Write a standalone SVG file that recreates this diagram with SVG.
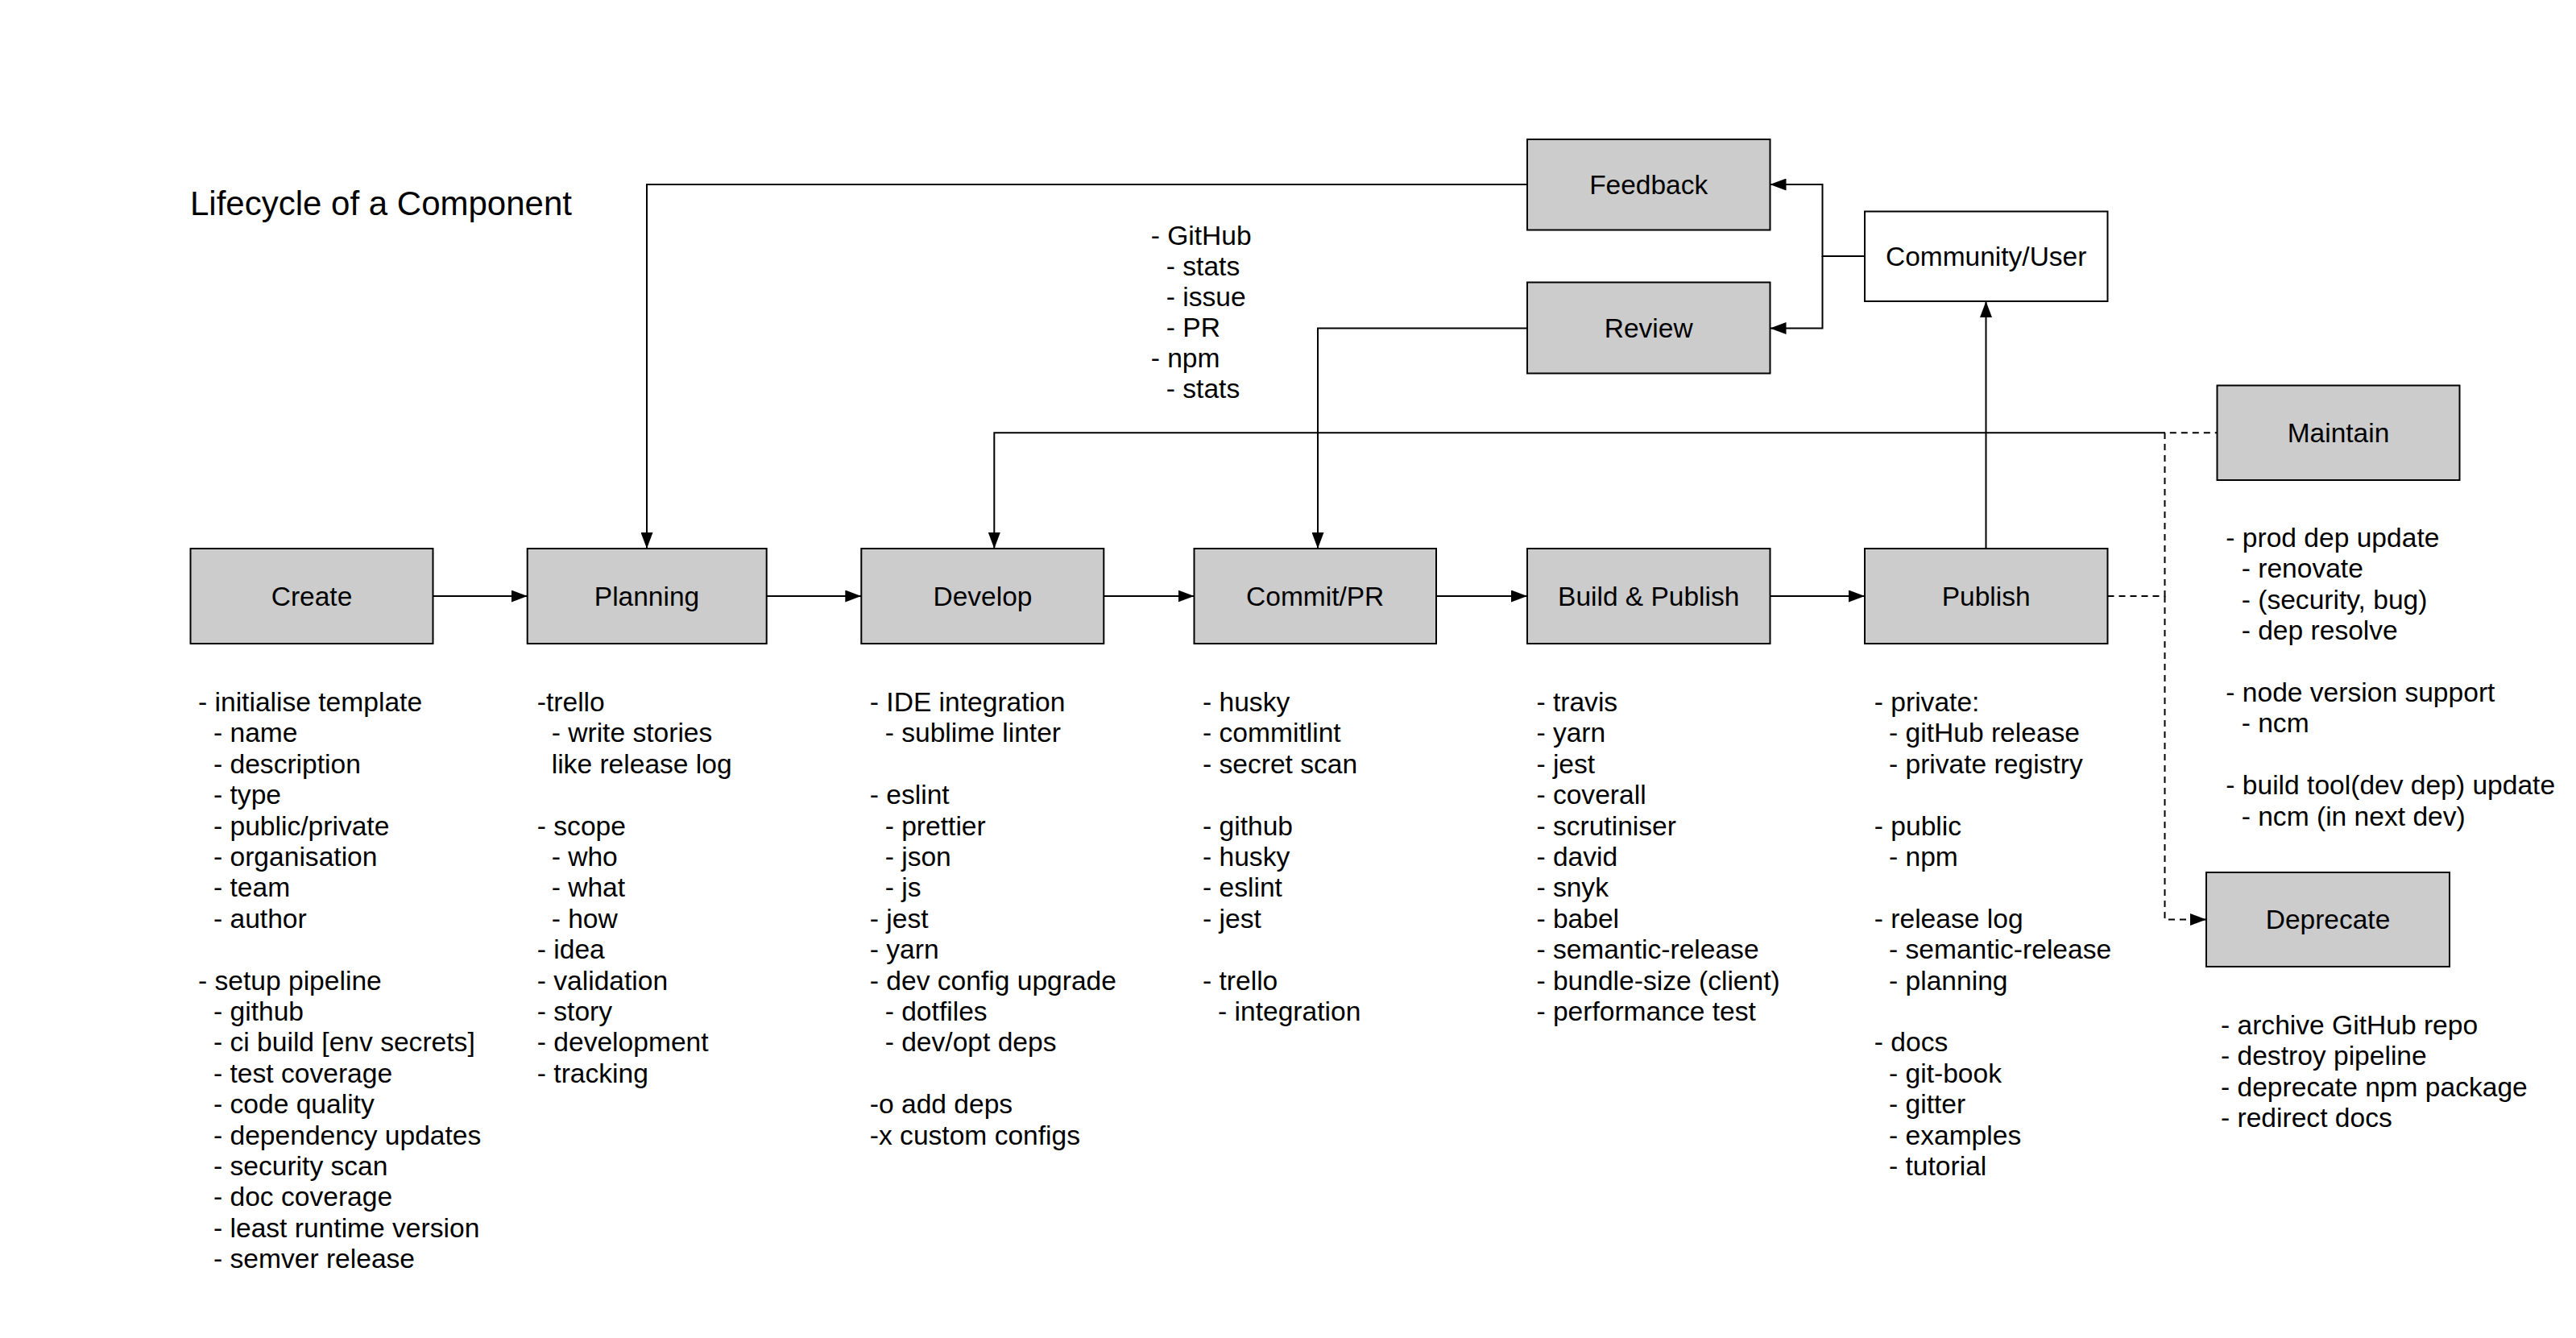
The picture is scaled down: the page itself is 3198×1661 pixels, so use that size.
<svg xmlns="http://www.w3.org/2000/svg" width="3198" height="1661" viewBox="0 0 3198 1661">
<style>
text{font-family:"Liberation Sans",Arial,Helvetica,sans-serif;fill:#000}
.box{fill:#cccccc;stroke:#000;stroke-width:2}
.wbox{fill:#ffffff;stroke:#000;stroke-width:2}
.lbl{font-size:33.5px;text-anchor:middle;dominant-baseline:central}
.note{font-size:33.6px}
.edge{fill:none;stroke:#000;stroke-width:2}
.dash{fill:none;stroke:#000;stroke-width:2;stroke-dasharray:8 6}
.title{font-size:42px}
</style>
<defs>
<marker id="arr" viewBox="0 0 20 15" refX="20" refY="7.5" markerWidth="20" markerHeight="15" orient="auto" markerUnits="userSpaceOnUse">
<path d="M0,0 L20,7.5 L0,15 Z" fill="#000"/>
</marker>
</defs>
<rect width="3198" height="1661" fill="#ffffff"/>
<text class="title" x="236" y="267">Lifecycle of a Component</text>

<g id="connectors">
<path class="edge" d="M537.5,740 H654.7" marker-end="url(#arr)"/>
<path class="edge" d="M951.5,740 H1069.3" marker-end="url(#arr)"/>
<path class="edge" d="M1370.4,740 H1482.5" marker-end="url(#arr)"/>
<path class="edge" d="M1783,740 H1896" marker-end="url(#arr)"/>
<path class="edge" d="M2197.5,740 H2315" marker-end="url(#arr)"/>
<path class="edge" d="M1896,229 H803 V681" marker-end="url(#arr)"/>
<path class="edge" d="M1896,407.5 H1636 V681" marker-end="url(#arr)"/>
<path class="edge" d="M2315,318 H2262.5 V229 H2197.5" marker-end="url(#arr)"/>
<path class="edge" d="M2262.5,318 V407.5 H2197.5" marker-end="url(#arr)"/>
<path class="edge" d="M2465.5,681 V374" marker-end="url(#arr)"/>
<path class="edge" d="M2687.5,537.3 H1234.3 V681" marker-end="url(#arr)"/>
<path class="dash" d="M2616.5,740 H2687.5 V537.3 H2752.5"/>
<path class="dash" d="M2687.5,740 V1141.5 H2739" marker-end="url(#arr)"/>
</g>

<g id="node-create"><rect class="box" x="236.5" y="681" width="301" height="118"/><text class="lbl" x="387" y="740">Create</text></g>
<g id="node-planning"><rect class="box" x="654.7" y="681" width="297" height="118"/><text class="lbl" x="803" y="740">Planning</text></g>
<g id="node-develop"><rect class="box" x="1069.3" y="681" width="301" height="118"/><text class="lbl" x="1220" y="740">Develop</text></g>
<g id="node-commit"><rect class="box" x="1482.5" y="681" width="300.5" height="118"/><text class="lbl" x="1632.7" y="740">Commit/PR</text></g>
<g id="node-build"><rect class="box" x="1896" y="681" width="301.5" height="118"/><text class="lbl" x="2046.7" y="740">Build &amp; Publish</text></g>
<g id="node-publish"><rect class="box" x="2315" y="681" width="301.5" height="118"/><text class="lbl" x="2465.7" y="740">Publish</text></g>
<g id="node-feedback"><rect class="box" x="1896" y="173" width="301.5" height="112.5"/><text class="lbl" x="2046.7" y="229">Feedback</text></g>
<g id="node-review"><rect class="box" x="1896" y="350.5" width="301.5" height="113"/><text class="lbl" x="2046.7" y="407">Review</text></g>
<g id="node-community"><rect class="wbox" x="2315" y="262.5" width="301.5" height="111.5"/><text class="lbl" x="2465.7" y="318">Community/User</text></g>
<g id="node-maintain"><rect class="box" x="2752.5" y="478.5" width="301" height="117.5"/><text class="lbl" x="2903" y="537.3">Maintain</text></g>
<g id="node-deprecate"><rect class="box" x="2739" y="1083" width="302" height="117"/><text class="lbl" x="2890" y="1141.5">Deprecate</text></g>

<g id="notes-github">
<text class="note" y="304">
<tspan x="1428.7">- GitHub</tspan>
<tspan x="1447.8" dy="38">- stats</tspan>
<tspan x="1447.8" dy="38">- issue</tspan>
<tspan x="1447.8" dy="38">- PR</tspan>
<tspan x="1428.7" dy="38">- npm</tspan>
<tspan x="1447.8" dy="38">- stats</tspan>
</text>
</g>

<g id="notes-create">
<text class="note" y="883">
<tspan x="246">- initialise template</tspan>
<tspan x="265" dy="38.4">- name</tspan>
<tspan x="265" dy="38.4">- description</tspan>
<tspan x="265" dy="38.4">- type</tspan>
<tspan x="265" dy="38.4">- public/private</tspan>
<tspan x="265" dy="38.4">- organisation</tspan>
<tspan x="265" dy="38.4">- team</tspan>
<tspan x="265" dy="38.4">- author</tspan>
<tspan x="246" dy="76.8">- setup pipeline</tspan>
<tspan x="265" dy="38.4">- github</tspan>
<tspan x="265" dy="38.4">- ci build [env secrets]</tspan>
<tspan x="265" dy="38.4">- test coverage</tspan>
<tspan x="265" dy="38.4">- code quality</tspan>
<tspan x="265" dy="38.4">- dependency updates</tspan>
<tspan x="265" dy="38.4">- security scan</tspan>
<tspan x="265" dy="38.4">- doc coverage</tspan>
<tspan x="265" dy="38.4">- least runtime version</tspan>
<tspan x="265" dy="38.4">- semver release</tspan>
</text>
</g>

<g id="notes-planning">
<text class="note" y="883">
<tspan x="666.8">-trello</tspan>
<tspan x="684.7" dy="38.4">- write stories</tspan>
<tspan x="684.7" dy="38.4">like release log</tspan>
<tspan x="666.8" dy="76.8">- scope</tspan>
<tspan x="684.7" dy="38.4">- who</tspan>
<tspan x="684.7" dy="38.4">- what</tspan>
<tspan x="684.7" dy="38.4">- how</tspan>
<tspan x="666.8" dy="38.4">- idea</tspan>
<tspan x="666.8" dy="38.4">- validation</tspan>
<tspan x="666.8" dy="38.4">- story</tspan>
<tspan x="666.8" dy="38.4">- development</tspan>
<tspan x="666.8" dy="38.4">- tracking</tspan>
</text>
</g>

<g id="notes-develop">
<text class="note" y="883">
<tspan x="1079.8">- IDE integration</tspan>
<tspan x="1098.7" dy="38.4">- sublime linter</tspan>
<tspan x="1079.8" dy="76.8">- eslint</tspan>
<tspan x="1098.7" dy="38.4">- prettier</tspan>
<tspan x="1098.7" dy="38.4">- json</tspan>
<tspan x="1098.7" dy="38.4">- js</tspan>
<tspan x="1079.8" dy="38.4">- jest</tspan>
<tspan x="1079.8" dy="38.4">- yarn</tspan>
<tspan x="1079.8" dy="38.4">- dev config upgrade</tspan>
<tspan x="1098.7" dy="38.4">- dotfiles</tspan>
<tspan x="1098.7" dy="38.4">- dev/opt deps</tspan>
<tspan x="1079.8" dy="76.8">-o add deps</tspan>
<tspan x="1079.8" dy="38.4">-x custom configs</tspan>
</text>
</g>

<g id="notes-commit">
<text class="note" y="883">
<tspan x="1493">- husky</tspan>
<tspan x="1493" dy="38.4">- commitlint</tspan>
<tspan x="1493" dy="38.4">- secret scan</tspan>
<tspan x="1493" dy="76.8">- github</tspan>
<tspan x="1493" dy="38.4">- husky</tspan>
<tspan x="1493" dy="38.4">- eslint</tspan>
<tspan x="1493" dy="38.4">- jest</tspan>
<tspan x="1493" dy="76.8">- trello</tspan>
<tspan x="1512" dy="38.4">- integration</tspan>
</text>
</g>

<g id="notes-build">
<text class="note" y="883">
<tspan x="1907.4">- travis</tspan>
<tspan x="1907.4" dy="38.4">- yarn</tspan>
<tspan x="1907.4" dy="38.4">- jest</tspan>
<tspan x="1907.4" dy="38.4">- coverall</tspan>
<tspan x="1907.4" dy="38.4">- scrutiniser</tspan>
<tspan x="1907.4" dy="38.4">- david</tspan>
<tspan x="1907.4" dy="38.4">- snyk</tspan>
<tspan x="1907.4" dy="38.4">- babel</tspan>
<tspan x="1907.4" dy="38.4">- semantic-release</tspan>
<tspan x="1907.4" dy="38.4">- bundle-size (client)</tspan>
<tspan x="1907.4" dy="38.4">- performance test</tspan>
</text>
</g>

<g id="notes-publish">
<text class="note" y="883">
<tspan x="2326.8">- private:</tspan>
<tspan x="2345" dy="38.4">- gitHub release</tspan>
<tspan x="2345" dy="38.4">- private registry</tspan>
<tspan x="2326.8" dy="76.8">- public</tspan>
<tspan x="2345" dy="38.4">- npm</tspan>
<tspan x="2326.8" dy="76.8">- release log</tspan>
<tspan x="2345" dy="38.4">- semantic-release</tspan>
<tspan x="2345" dy="38.4">- planning</tspan>
<tspan x="2326.8" dy="76.8">- docs</tspan>
<tspan x="2345" dy="38.4">- git-book</tspan>
<tspan x="2345" dy="38.4">- gitter</tspan>
<tspan x="2345" dy="38.4">- examples</tspan>
<tspan x="2345" dy="38.4">- tutorial</tspan>
</text>
</g>

<g id="notes-maintain">
<text class="note" y="679">
<tspan x="2763.3">- prod dep update</tspan>
<tspan x="2782.7" dy="38.4">- renovate</tspan>
<tspan x="2782.7" dy="38.4">- (security, bug)</tspan>
<tspan x="2782.7" dy="38.4">- dep resolve</tspan>
<tspan x="2763.3" dy="76.8">- node version support</tspan>
<tspan x="2782.7" dy="38.4">- ncm</tspan>
<tspan x="2763.3" dy="76.8">- build tool(dev dep) update</tspan>
<tspan x="2782.7" dy="38.4">- ncm (in next dev)</tspan>
</text>
</g>

<g id="notes-deprecate">
<text class="note" y="1284">
<tspan x="2757">- archive GitHub repo</tspan>
<tspan x="2757" dy="38.4">- destroy pipeline</tspan>
<tspan x="2757" dy="38.4">- deprecate npm package</tspan>
<tspan x="2757" dy="38.4">- redirect docs</tspan>
</text>
</g>
</svg>
